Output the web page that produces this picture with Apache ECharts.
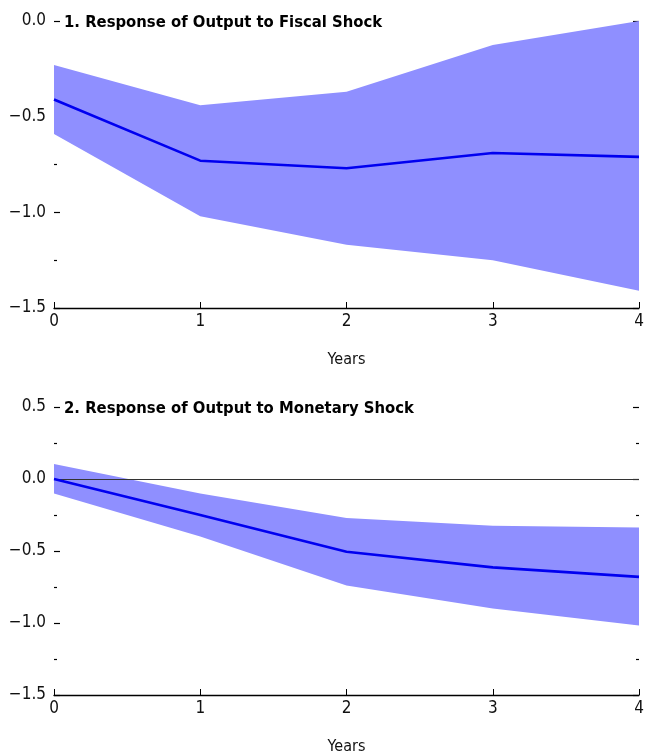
<!DOCTYPE html>
<html>
<head>
<meta charset="utf-8">
<script src="https://cdn.jsdelivr.net/npm/echarts@6/dist/echarts.min.js"></script>
<style>html,body{margin:0;padding:0;background:#fff;}#c{width:648px;height:756px;}</style>
</head>
<body>
<div id="c"></div>
<script>
const years = [0, 1, 2, 3, 4];
const fiscalMean  = [-0.41, -0.73, -0.77, -0.69, -0.71];
const fiscalUpper = [-0.23, -0.44, -0.37, -0.125, 0.0];
const fiscalLower = [-0.59, -1.02, -1.17, -1.25, -1.41];
const monMean  = [0.0, -0.25, -0.505, -0.614, -0.68];
const monUpper = [0.105, -0.10, -0.27, -0.325, -0.337];
const monLower = [-0.10, -0.40, -0.74, -0.90, -1.017];
const titles = ['1. Response of Output to Fiscal Shock', '2. Response of Output to Monetary Shock'];
const yTicks1 = { min: -1.5, max: 0.0, interval: 0.5 };
const yTicks2 = { min: -1.5, max: 0.5, interval: 0.5 };
const xLabel = 'Years';

const FONT = '"DejaVu Sans Condensed", "Liberation Sans Narrow", "Liberation Sans", sans-serif';
const fmt = v => (v < 0 ? '\u2212' : '') + Math.abs(v).toFixed(1);
const grids = [
  { left: 54, right: 9, top: 21, height: 287 },
  { left: 54, right: 9, top: 407, height: 289 }
];
function xAxis(i) {
  return {
    type: 'value', gridIndex: i, min: 0, max: 4, interval: 1,
    axisLine: { show: true, onZero: false, lineStyle: { color: '#000', width: 1.3 } },
    axisTick: { show: true, inside: true, length: 6, lineStyle: { color: '#000' } },
    axisLabel: { color: '#111', fontFamily: FONT, fontSize: 17, margin: 5 },
    splitLine: { show: false },
    name: xLabel, nameLocation: 'middle', nameGap: 44,
    nameTextStyle: { color: '#111', fontFamily: FONT, fontSize: 16 }
  };
}
function yAxis(i, t, pos) {
  return {
    type: 'value', gridIndex: i, min: t.min, max: t.max, interval: t.interval, position: pos,
    axisLine: { show: false, onZero: false },
    axisTick: { show: true, inside: true, length: 6, lineStyle: { color: '#000', width: 1.2 } },
    minorTick: { show: true, splitNumber: 2, length: 3, lineStyle: { color: '#000', width: 1.2 } },
    axisLabel: { show: pos === 'left', color: '#111', fontFamily: FONT, fontSize: 17, margin: 8, formatter: fmt },
    splitLine: { show: false }, minorSplitLine: { show: false }
  };
}
function bandSeries(i, lower, upper, mean, zeroLine) {
  return [
    { type: 'custom', xAxisIndex: i, yAxisIndex: i * 2, silent: true, z: 2,
      data: years.map((x, k) => [x, lower[k], upper[k]]),
      encode: { x: 0, y: [1, 2] },
      renderItem: function (params, api) {
        if (params.dataIndex !== 0) return null;
        const pts = [];
        for (let k = 0; k < years.length; k++) pts.push(api.coord([years[k], upper[k]]));
        for (let k = years.length - 1; k >= 0; k--) pts.push(api.coord([years[k], lower[k]]));
        return { type: 'polygon', shape: { points: pts }, style: { fill: '#8f8fff', stroke: null } };
      }
    },
    { type: 'line', xAxisIndex: i, yAxisIndex: i * 2,
      data: years.map((x, k) => [x, mean[k]]), symbol: 'none',
      lineStyle: { color: '#0000f0', width: 2.6 }, z: 5,
      markLine: zeroLine ? { silent: true, symbol: 'none', label: { show: false }, z: 4,
        lineStyle: { color: '#333', width: 1.2, type: 'solid' }, data: [{ yAxis: 0 }] } : undefined }
  ];
}
const chart = echarts.init(document.getElementById('c'), null, { renderer: 'canvas' });
chart.setOption({
  animation: false,
  backgroundColor: '#fff',
  title: titles.map((t, i) => ({
    text: t, left: 59, top: i === 0 ? 9 : 395,
    textStyle: { fontFamily: FONT, fontSize: 16.5, fontWeight: 'bold', color: '#000' }
  })),
  grid: grids,
  xAxis: [xAxis(0), xAxis(1)],
  yAxis: [yAxis(0, yTicks1, 'left'), yAxis(0, yTicks1, 'right'), yAxis(1, yTicks2, 'left'), yAxis(1, yTicks2, 'right')],
  series: [
    ...bandSeries(0, fiscalLower, fiscalUpper, fiscalMean, false),
    ...bandSeries(1, monLower, monUpper, monMean, true)
  ]
});
</script>
</body>
</html>
